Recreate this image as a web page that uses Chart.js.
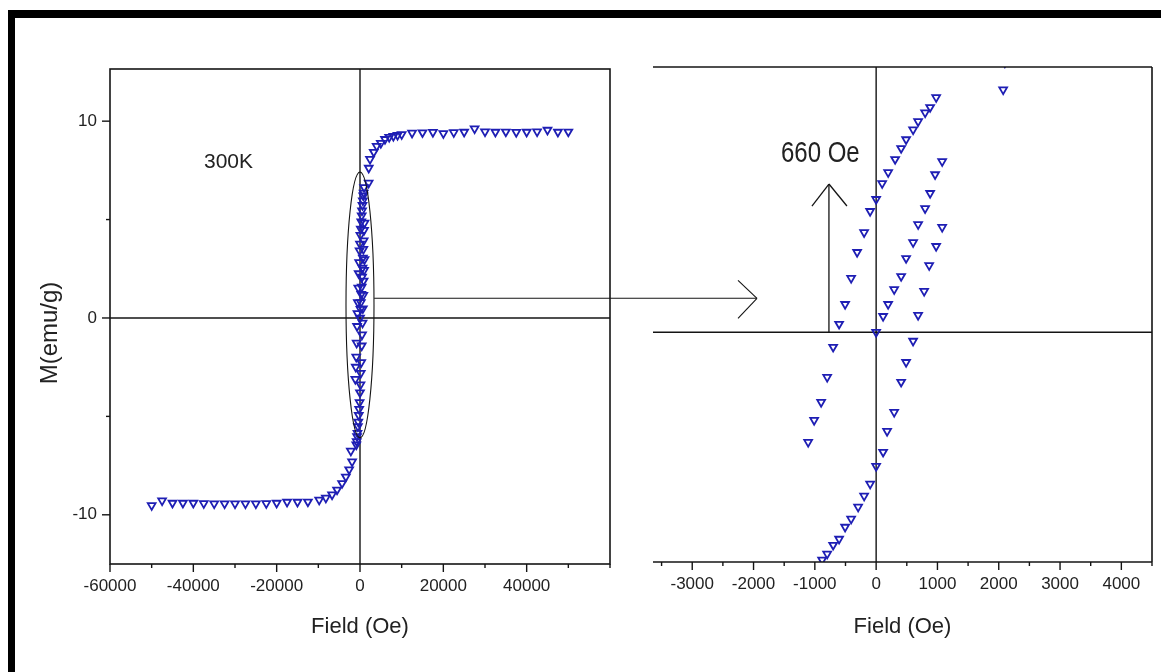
<!DOCTYPE html>
<html>
<head>
<meta charset="utf-8">
<title>M-H loop 300K</title>
<script src="https://cdn.jsdelivr.net/npm/chart.js@4.4.1/dist/chart.umd.min.js"></script>
<style>
  html, body { margin: 0; padding: 0; background: #fff; }
  #page { position: relative; width: 1161px; height: 672px; overflow: hidden; background: #fff; }
  #frame { position: absolute; left: 8px; top: 10px; right: -20px; bottom: -20px;
           border-left: 7px solid #000; border-top: 8px solid #000; }
  canvas { position: absolute; left: 0; top: 0; }
</style>
</head>
<body>
<div id="page">
  <div id="frame"></div>
  <canvas id="full" width="1161" height="672"></canvas>
  <canvas id="zoom" width="1161" height="672"></canvas>
</div>
<script>
// field in Oe, magnetisation in emu/g

// high field, field going down from +50 kOe
const highUpField  = [50000, 47500, 45000, 42500, 40000, 37500, 35000, 32500, 30000, 27500, 25000, 22500,
                      20000, 17500, 15000, 12500, 10000, 9000, 8000, 7000, 6000, 5000, 4000, 3300, 2400, 2100];
const highUpMoment = [9.46, 9.45, 9.55, 9.47, 9.45, 9.44, 9.46, 9.45, 9.47, 9.62, 9.45, 9.43,
                      9.38, 9.44, 9.42, 9.40, 9.33, 9.29, 9.24, 9.19, 9.08, 8.88, 8.73, 8.43, 8.07, 7.62];

// high field, negative side
const highDownField  = [-1900, -2200, -2600, -3400, -4300, -5500, -6700, -8200, -9800, -12500, -15000, -17500,
                        -20000, -22500, -25000, -27500, -30000, -32500, -35000, -37500, -40000, -42500, -45000,
                        -47500, -50000];
const highDownMoment = [-7.30, -6.75, -7.70, -8.07, -8.40, -8.73, -8.98, -9.14, -9.24, -9.34, -9.35, -9.35,
                        -9.40, -9.42, -9.43, -9.43, -9.43, -9.43, -9.43, -9.42, -9.40, -9.40, -9.40,
                        -9.28, -9.52];

// low field, descending branch
const descField  = [979, 881, 799, 685, 603, 489, 408, 310, 196, 98, 0, -98, -196, -310, -408, -506,
                    -604, -701, -799, -897, -1011, -1109];
const descMoment = [6.64, 6.36, 6.21, 5.96, 5.73, 5.45, 5.20, 4.89, 4.52, 4.21, 3.76, 3.42, 2.82, 2.26, 1.53, 0.79,
                    0.23, -0.42, -1.27, -1.98, -2.49, -3.11];

// low field, ascending branch
const ascField  = [-881, -799, -701, -604, -506, -408, -294, -196, -98, 0, 114, 179, 294, 408, 489, 603,
                   685, 783, 865, 979, 1077, 2072];
const ascMoment = [-6.44, -6.27, -6.02, -5.85, -5.51, -5.28, -4.94, -4.63, -4.29, -3.79, -3.39, -2.80, -2.26, -1.41, -0.85, -0.25,
                   0.48, 1.16, 1.89, 2.43, 2.97, 6.86];

// initial curve from the origin
const virginField  = [0, 114, 196, 294, 408, 489, 603, 685, 799, 881, 962, 1077];
const virginMoment = [0, 0.45, 0.79, 1.21, 1.58, 2.09, 2.54, 3.05, 3.50, 3.93, 4.46, 4.83];

// axis ticks
const fullFieldTicks  = [-60000, -50000, -40000, -30000, -20000, -10000, 0, 10000, 20000, 30000, 40000, 50000, 60000];
const fullFieldLabels = [-60000, -40000, -20000, 0, 20000, 40000];
const momentTicks     = [-10, -5, 0, 5, 10];
const momentLabels    = [-10, 0, 10];
const zoomFieldTicks  = [-3500, -3000, -2500, -2000, -1500, -1000, -500, 0, 500, 1000, 1500, 2000, 2500, 3000, 3500, 4000, 4500];
const zoomFieldLabels = [-3000, -2000, -1000, 0, 1000, 2000, 3000, 4000];

const fieldAll = [].concat(highUpField, virginField, descField, ascField, highDownField);
const momentAll = [].concat(highUpMoment, virginMoment, descMoment, ascMoment, highDownMoment);
const points = fieldAll.map((h, i) => ({ x: h, y: momentAll[i] }));

const ink = '#141414';
const markColor = '#1e1eb4';
const textColor = '#222';
const sans = "'Liberation Sans', Arial, sans-serif";

function seg(ctx, x1, y1, x2, y2) {
  ctx.beginPath();
  ctx.moveTo(x1, y1);
  ctx.lineTo(x2, y2);
  ctx.stroke();
}

function loopDataset() {
  return {
    data: points,
    pointStyle: 'triangle',
    rotation: 180,
    radius: 4.5,
    borderWidth: 1.8,
    borderColor: markColor,
    backgroundColor: 'rgba(255,255,255,0)',
    showLine: false
  };
}

function fixedTicks(list) {
  return scale => { scale.ticks = list.map(v => ({ value: v })); };
}

function labelOnly(list) {
  return v => (list.includes(v) ? String(v) : '');
}

// tick marks drawn outward, long for labelled values
function drawXTicks(ctx, scale, labels) {
  const b = scale.chart.chartArea.bottom;
  scale.ticks.forEach(t => {
    const px = scale.getPixelForValue(t.value);
    seg(ctx, px, b, px, b + (labels.includes(t.value) ? 8 : 4));
  });
}

function drawYTicks(ctx, scale, labels) {
  const l = scale.chart.chartArea.left;
  scale.ticks.forEach(t => {
    const py = scale.getPixelForValue(t.value);
    seg(ctx, l, py, l - (labels.includes(t.value) ? 8 : 4), py);
  });
}

const fullDecor = {
  id: 'fullDecor',
  beforeDatasetsDraw(chart) {
    const { ctx, chartArea: a, scales: { x, y } } = chart;
    ctx.save();
    ctx.strokeStyle = ink;
    ctx.lineWidth = 1.4;
    seg(ctx, x.getPixelForValue(0), a.top, x.getPixelForValue(0), a.bottom);
    seg(ctx, a.left, y.getPixelForValue(0), a.right, y.getPixelForValue(0));
    ctx.restore();
  },
  afterDatasetsDraw(chart) {
    const { ctx, chartArea: a, scales: { x, y } } = chart;
    ctx.save();
    ctx.strokeStyle = ink;
    ctx.lineWidth = 1.6;
    ctx.strokeRect(a.left, a.top, a.right - a.left, a.bottom - a.top);
    ctx.lineWidth = 1.4;
    drawXTicks(ctx, x, fullFieldLabels);
    drawYTicks(ctx, y, momentLabels);

    // ellipse around the low-field part of the loop
    ctx.lineWidth = 1.1;
    const cx = x.getPixelForValue(0), cy = y.getPixelForValue(0.66);
    ctx.beginPath();
    ctx.ellipse(cx, cy, x.getPixelForValue(3360) - cx, y.getPixelForValue(0) - y.getPixelForValue(6.75), 0, 0, Math.PI * 2);
    ctx.stroke();

    // arrow pointing to the enlarged view
    const ay = y.getPixelForValue(1.0);
    const ax0 = x.getPixelForValue(3400);
    const ax1 = a.right + 147;
    seg(ctx, ax0, ay, ax1, ay);
    seg(ctx, ax1, ay, ax1 - 19, ay - 18);
    seg(ctx, ax1, ay, ax1 - 19, ay + 20);

    ctx.fillStyle = textColor;
    ctx.font = '21px ' + sans;
    ctx.textAlign = 'center';
    ctx.textBaseline = 'middle';
    ctx.fillText('300K', x.getPixelForValue(-31560), y.getPixelForValue(7.92));

    ctx.font = '24px ' + sans;
    ctx.translate(50, 333);
    ctx.rotate(-Math.PI / 2);
    ctx.fillText('M(emu/g)', 0, 0);
    ctx.restore();
  }
};

const zoomDecor = {
  id: 'zoomDecor',
  beforeDatasetsDraw(chart) {
    const { ctx, chartArea: a, scales: { x, y } } = chart;
    ctx.save();
    ctx.strokeStyle = ink;
    ctx.lineWidth = 1.4;
    seg(ctx, x.getPixelForValue(0), a.top, x.getPixelForValue(0), a.bottom);
    seg(ctx, a.left, y.getPixelForValue(0), a.right, y.getPixelForValue(0));
    ctx.restore();
  },
  afterDatasetsDraw(chart) {
    const { ctx, chartArea: a, scales: { x, y } } = chart;
    ctx.save();
    ctx.strokeStyle = ink;
    ctx.lineWidth = 1.6;
    seg(ctx, a.left, a.top, a.right, a.top);
    seg(ctx, a.right, a.top, a.right, a.bottom);
    seg(ctx, a.left, a.bottom, a.right, a.bottom);
    ctx.lineWidth = 1.4;
    drawXTicks(ctx, x, zoomFieldLabels);

    // coercive field marker
    ctx.lineWidth = 1.3;
    const vx = x.getPixelForValue(-770);
    const tip = y.getPixelForValue(4.19);
    seg(ctx, vx, y.getPixelForValue(0), vx, tip);
    seg(ctx, vx, tip, vx - 17, tip + 22);
    seg(ctx, vx, tip, vx + 18, tip + 22);

    // narrow label: regular face squeezed horizontally
    ctx.fillStyle = textColor;
    ctx.font = '30px ' + sans;
    ctx.textAlign = 'center';
    ctx.textBaseline = 'alphabetic';
    ctx.translate(x.getPixelForValue(-910), y.getPixelForValue(4.81));
    ctx.scale(0.8, 1);
    ctx.fillText('660 Oe', 0, 0);
    ctx.restore();
  }
};

const tickFont = { family: sans, size: 17 };
const titleFont = { family: sans, size: 22 };

Chart.defaults.animation = false;
Chart.defaults.events = [];

new Chart(document.getElementById('full'), {
  type: 'scatter',
  data: { datasets: [loopDataset()] },
  options: {
    responsive: false,
    layout: { padding: { left: 0, top: 69, right: 551, bottom: 32 } },
    plugins: { legend: { display: false }, tooltip: { enabled: false } },
    scales: {
      x: {
        type: 'linear', min: -60000, max: 60000,
        afterBuildTicks: fixedTicks(fullFieldTicks),
        afterFit: s => { s.height = 76; },
        border: { display: false },
        grid: { drawOnChartArea: false, tickLength: 8, tickColor: 'rgba(0,0,0,0)' },
        ticks: { autoSkip: false, maxRotation: 0, padding: 4, color: textColor, font: tickFont,
                 callback: labelOnly(fullFieldLabels) },
        title: { display: true, text: 'Field (Oe)', color: textColor, font: titleFont, padding: 0 }
      },
      y: {
        type: 'linear', min: -12.5, max: 12.65,
        afterBuildTicks: fixedTicks(momentTicks),
        afterFit: s => { s.width = 110; },
        border: { display: false },
        grid: { drawOnChartArea: false, tickLength: 8, tickColor: 'rgba(0,0,0,0)' },
        ticks: { autoSkip: false, padding: 5, color: textColor, font: tickFont,
                 callback: labelOnly(momentLabels) }
      }
    }
  },
  plugins: [fullDecor]
});

new Chart(document.getElementById('zoom'), {
  type: 'scatter',
  data: { datasets: [loopDataset()] },
  options: {
    responsive: false,
    layout: { padding: { left: 653, top: 67, right: 9, bottom: 32 } },
    plugins: { legend: { display: false }, tooltip: { enabled: false } },
    scales: {
      x: {
        type: 'linear', min: -3640, max: 4500,
        afterBuildTicks: fixedTicks(zoomFieldTicks),
        afterFit: s => { s.height = 78; },
        border: { display: false },
        grid: { drawOnChartArea: false, tickLength: 8, tickColor: 'rgba(0,0,0,0)' },
        ticks: { autoSkip: false, maxRotation: 0, padding: 4, color: textColor, font: tickFont,
                 callback: labelOnly(zoomFieldLabels) },
        title: { display: true, text: 'Field (Oe)', color: textColor, font: titleFont, padding: 0 }
      },
      y: {
        type: 'linear', min: -6.5, max: 7.5, display: false
      }
    }
  },
  plugins: [zoomDecor]
});
</script>
</body>
</html>
